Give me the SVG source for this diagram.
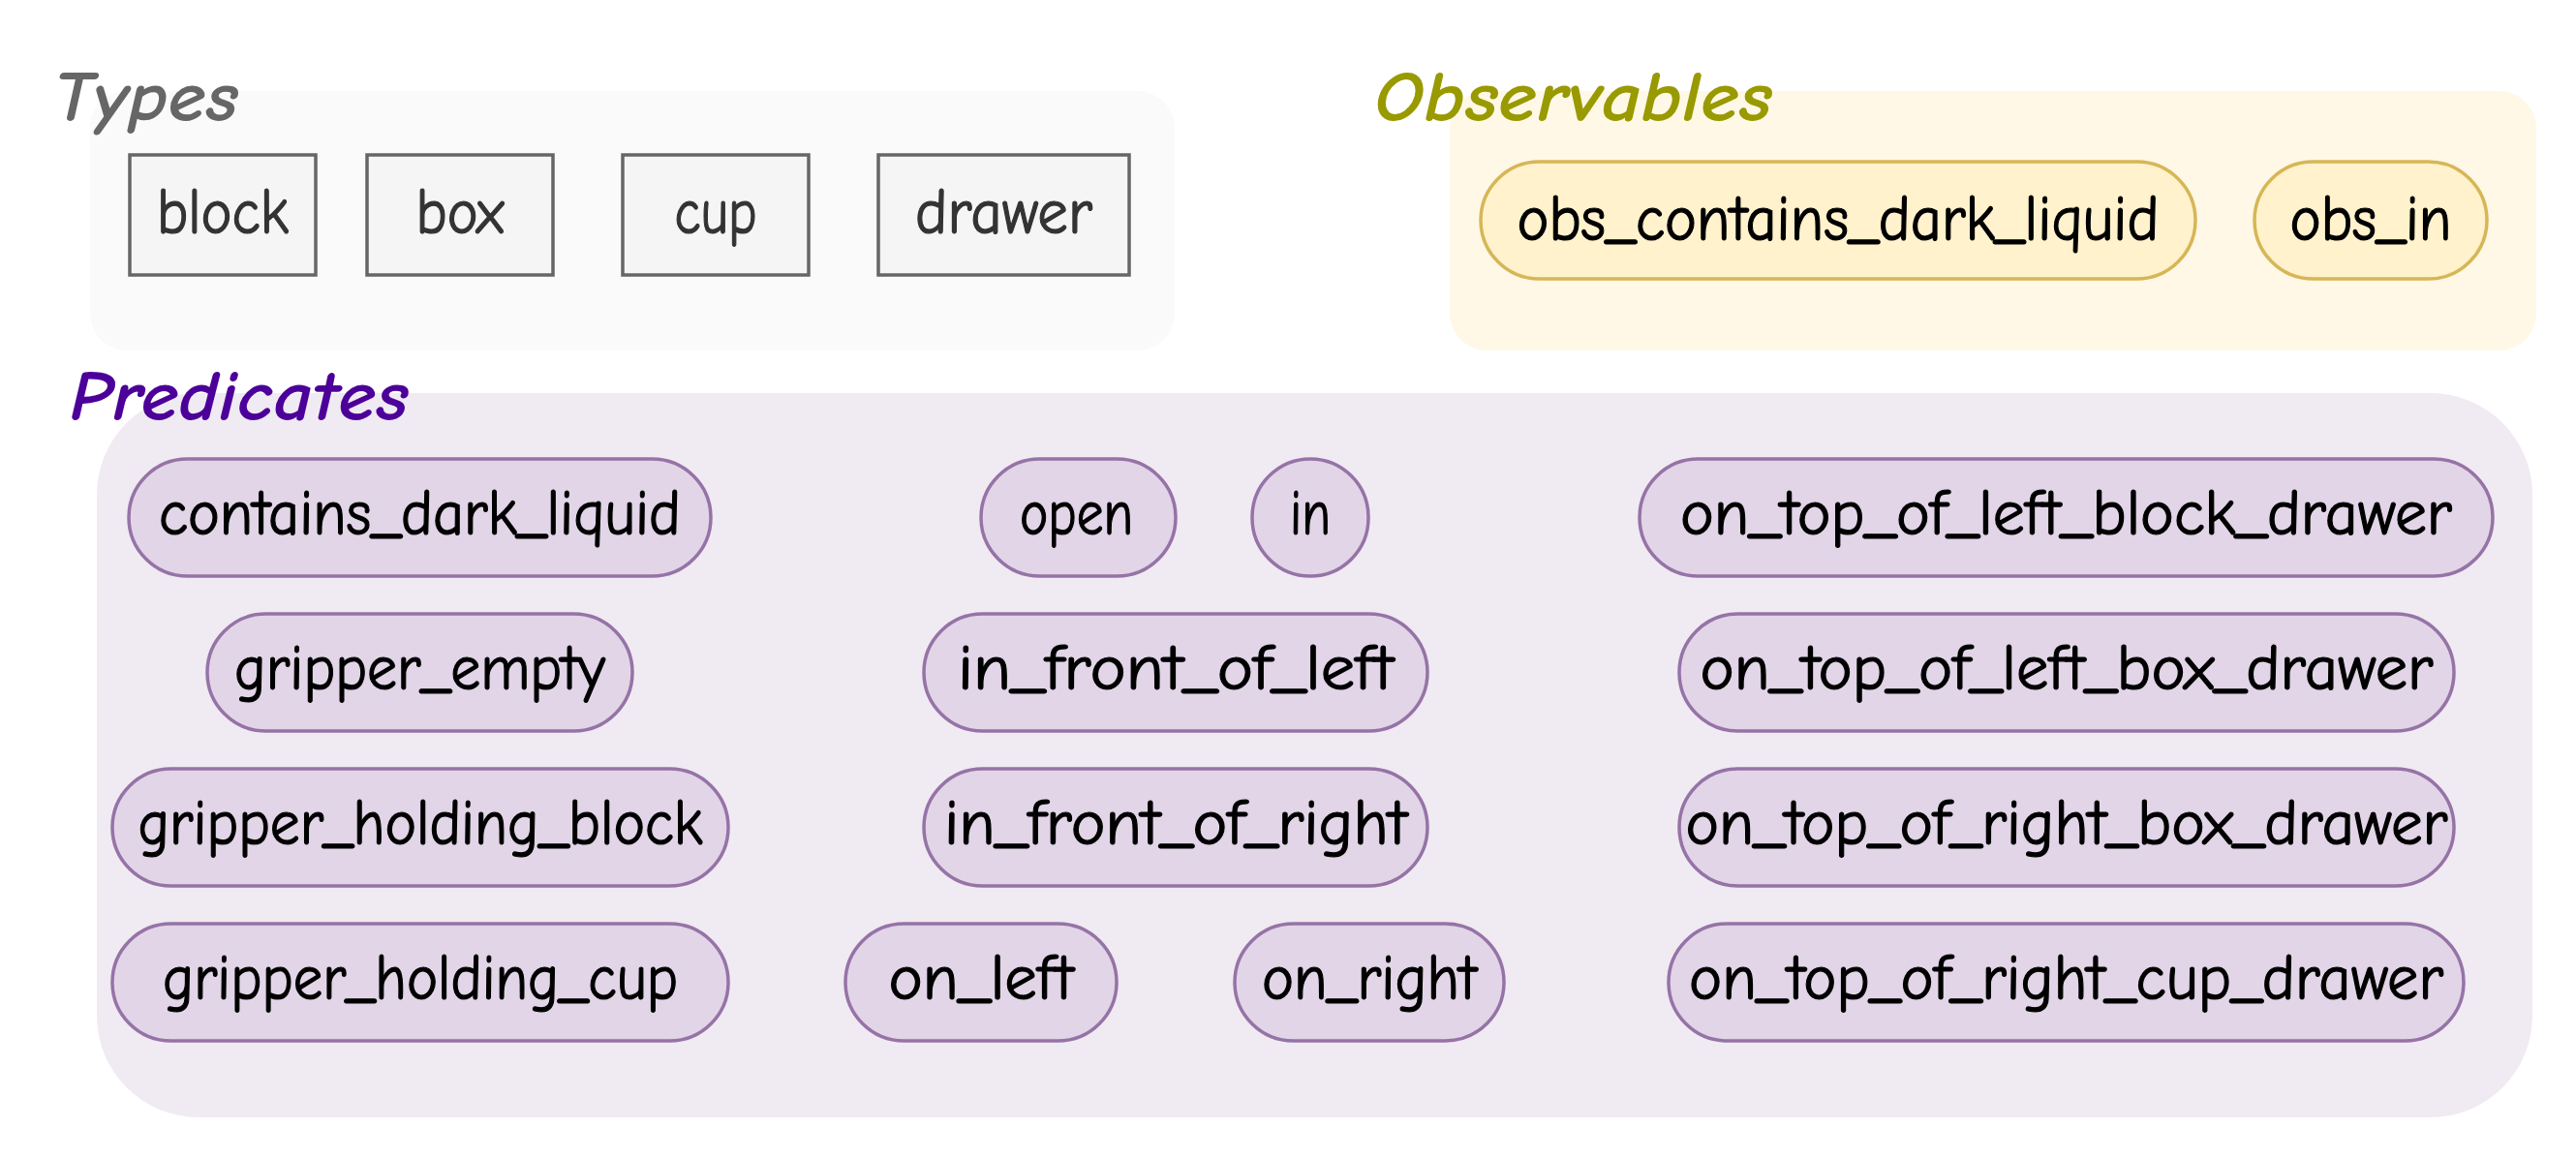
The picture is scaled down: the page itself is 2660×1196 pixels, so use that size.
<svg xmlns="http://www.w3.org/2000/svg" width="2660" height="1196" viewBox="0 0 2660 1196">
<style>
.title{font-family:"Comic Sans MS","Comic Neue","Noto Sans","DejaVu Sans",sans-serif;font-style:italic;font-size:74px;font-weight:700;}
.lbl{font-family:"Comic Sans MS","Comic Neue","Noto Sans","DejaVu Sans",sans-serif;font-size:66px;font-weight:400;fill:#000;stroke:#000;stroke-width:1.2;text-anchor:middle;}
.type rect{fill:#f5f5f5;stroke:#666666;stroke-width:3.5;}
.type text{fill:#333333;stroke:#333333;}
.obs rect{fill:#fff2cc;stroke:#d6b656;stroke-width:3.5;}
.pred rect{fill:#e1d5e7;stroke:#9673a6;stroke-width:3.5;}
</style>
<rect width="2660" height="1196" fill="#ffffff"/>
<g id="types-group">
<rect x="93" y="94" width="1120" height="268" rx="38" fill="#fafafa"/>
<text class="title" x="55" y="125" fill="#666666" textLength="191" lengthAdjust="spacingAndGlyphs">Types</text>
</g>
<g id="observables-group">
<rect x="1497" y="94" width="1122" height="268" rx="38" fill="#fff8e6"/>
<text class="title" x="1419" y="125" fill="#999900" textLength="411" lengthAdjust="spacingAndGlyphs">Observables</text>
</g>
<g id="predicates-group">
<rect x="100" y="406" width="2515" height="748" rx="105" fill="#f0eaf3"/>
<text class="title" x="72" y="434" fill="#4c0099" textLength="350" lengthAdjust="spacingAndGlyphs">Predicates</text>
</g>
<g id="type-block" class="type"><rect x="134" y="160" width="192" height="124"/><text class="lbl" x="230" y="241" textLength="136" lengthAdjust="spacingAndGlyphs">block</text></g>
<g id="type-box" class="type"><rect x="379" y="160" width="192" height="124"/><text class="lbl" x="475" y="241" textLength="91" lengthAdjust="spacingAndGlyphs">box</text></g>
<g id="type-cup" class="type"><rect x="643" y="160" width="192" height="124"/><text class="lbl" x="739" y="241" textLength="85" lengthAdjust="spacingAndGlyphs">cup</text></g>
<g id="type-drawer" class="type"><rect x="907" y="160" width="259" height="124"/><text class="lbl" x="1036.5" y="241" textLength="183" lengthAdjust="spacingAndGlyphs">drawer</text></g>
<g id="obs-contains-dark-liquid" class="obs"><rect x="1529" y="167" width="738" height="121" rx="60.5"/><text class="lbl" x="1898" y="248" textLength="663" lengthAdjust="spacingAndGlyphs">obs_contains_dark_liquid</text></g>
<g id="obs-in" class="obs"><rect x="2328" y="167" width="240" height="121" rx="60.5"/><text class="lbl" x="2448" y="248" textLength="167" lengthAdjust="spacingAndGlyphs">obs_in</text></g>
<g id="p-contains-dark-liquid" class="pred"><rect x="133" y="474" width="601" height="121" rx="60.5"/><text class="lbl" x="433.5" y="552" textLength="539" lengthAdjust="spacingAndGlyphs">contains_dark_liquid</text></g>
<g id="p-open" class="pred"><rect x="1013" y="474" width="201" height="121" rx="60.5"/><text class="lbl" x="1111.5" y="552" textLength="117" lengthAdjust="spacingAndGlyphs">open</text></g>
<g id="p-in" class="pred"><rect x="1293" y="474" width="120" height="121" rx="60"/><text class="lbl" x="1353" y="552" textLength="42" lengthAdjust="spacingAndGlyphs">in</text></g>
<g id="p-on-top-of-left-block-drawer" class="pred"><rect x="1693" y="474" width="881" height="121" rx="60.5"/><text class="lbl" x="2133.5" y="552" textLength="797" lengthAdjust="spacingAndGlyphs">on_top_of_left_block_drawer</text></g>
<g id="p-gripper-empty" class="pred"><rect x="214" y="634" width="439" height="121" rx="60.5"/><text class="lbl" x="433.5" y="712" textLength="383" lengthAdjust="spacingAndGlyphs">gripper_empty</text></g>
<g id="p-in-front-of-left" class="pred"><rect x="954" y="634" width="520" height="121" rx="60.5"/><text class="lbl" x="1214" y="712" textLength="450" lengthAdjust="spacingAndGlyphs">in_front_of_left</text></g>
<g id="p-on-top-of-left-box-drawer" class="pred"><rect x="1734" y="634" width="800" height="121" rx="60.5"/><text class="lbl" x="2134" y="712" textLength="757" lengthAdjust="spacingAndGlyphs">on_top_of_left_box_drawer</text></g>
<g id="p-gripper-holding-block" class="pred"><rect x="116" y="794" width="636" height="121" rx="60.5"/><text class="lbl" x="434" y="872" textLength="583" lengthAdjust="spacingAndGlyphs">gripper_holding_block</text></g>
<g id="p-in-front-of-right" class="pred"><rect x="954" y="794" width="520" height="121" rx="60.5"/><text class="lbl" x="1214" y="872" textLength="478" lengthAdjust="spacingAndGlyphs">in_front_of_right</text></g>
<g id="p-on-top-of-right-box-drawer" class="pred"><rect x="1734" y="794" width="800" height="121" rx="60.5"/><text class="lbl" x="2134" y="872" textLength="787" lengthAdjust="spacingAndGlyphs">on_top_of_right_box_drawer</text></g>
<g id="p-gripper-holding-cup" class="pred"><rect x="116" y="954" width="636" height="121" rx="60.5"/><text class="lbl" x="434" y="1032" textLength="532" lengthAdjust="spacingAndGlyphs">gripper_holding_cup</text></g>
<g id="p-on-left" class="pred"><rect x="873" y="954" width="280" height="121" rx="60.5"/><text class="lbl" x="1013" y="1032" textLength="191" lengthAdjust="spacingAndGlyphs">on_left</text></g>
<g id="p-on-right" class="pred"><rect x="1275" y="954" width="278" height="121" rx="60.5"/><text class="lbl" x="1414" y="1032" textLength="222" lengthAdjust="spacingAndGlyphs">on_right</text></g>
<g id="p-on-top-of-right-cup-drawer" class="pred"><rect x="1723" y="954" width="821" height="121" rx="60.5"/><text class="lbl" x="2133.5" y="1032" textLength="779" lengthAdjust="spacingAndGlyphs">on_top_of_right_cup_drawer</text></g>
<g id="connectors"></g>
</svg>
